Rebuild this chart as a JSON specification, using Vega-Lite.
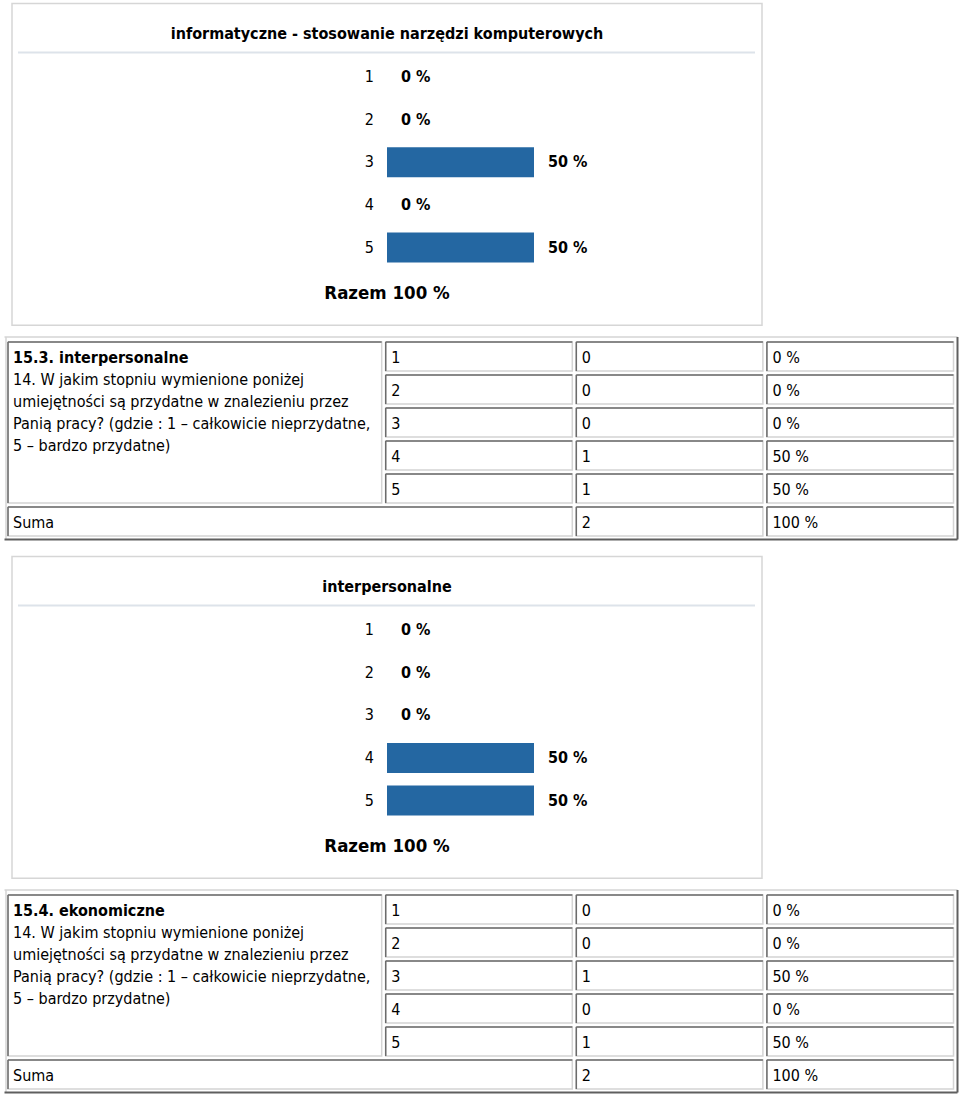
{
"$schema": "https://vega.github.io/schema/vega-lite/v6.json",
"padding": 0,
"spacing": 0,
"background": "white",
"config": {"view": {"stroke": null}, "axis": {"disable": true}, "font": "DejaVu Sans Condensed, DejaVu Sans", "text": {"color": "#000000"}},
"datasets": {
"informatyczne": [{"kat":1,"procent":0,"etykieta":"0 %"},{"kat":2,"procent":0,"etykieta":"0 %"},{"kat":3,"procent":50,"etykieta":"50 %"},{"kat":4,"procent":0,"etykieta":"0 %"},{"kat":5,"procent":50,"etykieta":"50 %"}],
"interpersonalne": [{"kat":1,"procent":0,"etykieta":"0 %"},{"kat":2,"procent":0,"etykieta":"0 %"},{"kat":3,"procent":0,"etykieta":"0 %"},{"kat":4,"procent":50,"etykieta":"50 %"},{"kat":5,"procent":50,"etykieta":"50 %"}],
"interpersonalne_tabela": [{"kat":"1","n":0,"pct":"0 %"},{"kat":"2","n":0,"pct":"0 %"},{"kat":"3","n":0,"pct":"0 %"},{"kat":"4","n":1,"pct":"50 %"},{"kat":"5","n":1,"pct":"50 %"},{"kat":"Suma","n":2,"pct":"100 %"}],
"ekonomiczne_tabela": [{"kat":"1","n":0,"pct":"0 %"},{"kat":"2","n":0,"pct":"0 %"},{"kat":"3","n":1,"pct":"50 %"},{"kat":"4","n":0,"pct":"0 %"},{"kat":"5","n":1,"pct":"50 %"},{"kat":"Suma","n":2,"pct":"100 %"}]
},
"vconcat": [
{
"width": 960, "height": 332,
"data": {"name": "informatyczne"},
"layer": [
{"data":{"values":[{}]},"mark":{"type":"rect","fill":"#ffffff","stroke":"#d6d6d6","strokeWidth":1.5,"xOffset":-375,"x2Offset":375,"yOffset":-31,"y2Offset":35},
 "encoding":{"x":{"datum":0,"type":"quantitative","scale":{"domain":[0,100],"range":[387,681],"nice":false,"zero":false,"padding":0}},"x2":{"datum":0},"y":{"datum":0,"type":"quantitative","scale":{"domain":[1,5],"range":[77,247.5],"nice":false,"zero":false,"padding":0}},"y2":{"datum":6}}},
{"data":{"values":[{}]},"mark":{"type":"rule","color":"#dde3ea","strokeWidth":2,"xOffset":-369,"x2Offset":368,"yOffset":18},
 "encoding":{"x":{"datum":0,"type":"quantitative"},"x2":{"datum":0},"y":{"datum":0,"type":"quantitative"}}},
{"data":{"values":[{}]},"mark":{"type":"text","fontSize":16,"fontWeight":"bold","align":"center","baseline":"middle"},
 "encoding":{"x":{"datum":0,"type":"quantitative"},"y":{"datum":0,"type":"quantitative"},"text":{"value":"informatyczne - stosowanie narzędzi komputerowych"}}},
{"mark":{"type":"bar","orient":"horizontal","size":30,"color":"#2467a2"},
 "encoding":{"x":{"field":"procent","type":"quantitative","stack":null},"y":{"field":"kat","type":"quantitative"}}},
{"mark":{"type":"text","align":"right","baseline":"middle","dx":-13,"fontSize":16},
 "encoding":{"x":{"datum":0,"type":"quantitative"},"y":{"field":"kat","type":"quantitative"},"text":{"field":"kat","type":"nominal"}}},
{"mark":{"type":"text","align":"left","baseline":"middle","dx":14,"fontSize":16,"fontWeight":"bold"},
 "encoding":{"x":{"field":"procent","type":"quantitative"},"y":{"field":"kat","type":"quantitative"},"text":{"field":"etykieta","type":"nominal"}}},
{"data":{"values":[{}]},"mark":{"type":"text","fontSize":18.5,"fontWeight":"bold","align":"center","baseline":"middle","dy":3},
 "encoding":{"x":{"datum":0,"type":"quantitative"},"y":{"datum":6,"type":"quantitative"},"text":{"value":"Razem 100 %"}}}
]
},
{
"width": 960, "height": 221,
"data": {"name": "interpersonalne_tabela"},
"layer": [
{"data":{"values":[{}]},"mark":{"type":"rule","color":"#d4d4d4","strokeWidth":1.5,"yOffset":-19.5},"encoding":{"x":{"datum":0,"type":"quantitative","scale":{"domain":[0,5],"range":[4.5,957.5],"nice":false,"zero":false,"padding":0}},"x2":{"datum":5},"y":{"datum":"1","type":"nominal","scale":{"type":"point","domain":["1","2","3","4","5","Suma"],"range":[24.5,189.5],"padding":0}}}},
{"data":{"values":[{}]},"mark":{"type":"rule","color":"#d4d4d4","strokeWidth":1.5,"xOffset":1.5,"yOffset":-19.5,"y2Offset":18},"encoding":{"x":{"datum":0,"type":"quantitative"},"y":{"datum":"1","type":"nominal"},"y2":{"datum":"Suma"}}},
{"data":{"values":[{}]},"mark":{"type":"rule","color":"#5f5f5f","strokeWidth":2,"yOffset":-19.5,"y2Offset":18},"encoding":{"x":{"datum":5,"type":"quantitative"},"y":{"datum":"1","type":"nominal"},"y2":{"datum":"Suma"}}},
{"data":{"values":[{}]},"mark":{"type":"rule","color":"#5f5f5f","strokeWidth":2,"yOffset":18},"encoding":{"x":{"datum":0,"type":"quantitative"},"x2":{"datum":5},"y":{"datum":"Suma","type":"nominal"}}},
{"data":{"values":[{}]},"mark":{"type":"rect","fill":"#ffffff","stroke":"#d4d4d4","strokeWidth":1.5,"xOffset":3.5,"x2Offset":-4,"yOffset":-14.5,"y2Offset":14.5},"encoding":{"x":{"datum":0,"type":"quantitative"},"x2":{"datum":2},"y":{"datum":"1","type":"nominal"},"y2":{"datum":"5"}}},
{"data":{"values":[{}]},"mark":{"type":"rule","color":"#6b6b6b","strokeWidth":1.5,"xOffset":3.5,"x2Offset":-4,"yOffset":-14.5},"encoding":{"x":{"datum":0,"type":"quantitative"},"x2":{"datum":2},"y":{"datum":"1","type":"nominal"}}},
{"data":{"values":[{}]},"mark":{"type":"rule","color":"#6b6b6b","strokeWidth":1.5,"xOffset":3.5,"yOffset":-14.5,"y2Offset":14.5},"encoding":{"x":{"datum":0,"type":"quantitative"},"y":{"datum":"1","type":"nominal"},"y2":{"datum":"5"}}},
{"data":{"values":[{}]},"mark":{"type":"text","align":"left","baseline":"middle","dx":8.5,"dy":1.5,"fontSize":16,"fontWeight":"bold"},"encoding":{"x":{"datum":0,"type":"quantitative"},"y":{"datum":"1","type":"nominal"},"text":{"value":"15.3. interpersonalne"}}},
{"data":{"values":[{}]},"mark":{"type":"text","align":"left","baseline":"alphabetic","dx":8.5,"dy":28,"fontSize":16,"lineHeight":22},"encoding":{"x":{"datum":0,"type":"quantitative"},"y":{"datum":"1","type":"nominal"},"text":{"value":["14. W jakim stopniu wymienione poniżej","umiejętności są przydatne w znalezieniu przez","Panią pracy? (gdzie : 1 – całkowicie nieprzydatne,","5 – bardzo przydatne)"]}}},
{"transform":[{"filter":"datum.kat != 'Suma'"}],"mark":{"type":"rect","fill":"#ffffff","stroke":"#d4d4d4","strokeWidth":1.5,"x2Offset":-4,"yOffset":-14.5,"y2Offset":14.5},"encoding":{"x":{"datum":2,"type":"quantitative"},"x2":{"datum":3},"y":{"field":"kat","type":"nominal"},"y2":{"field":"kat"}}},
{"transform":[{"filter":"datum.kat != 'Suma'"}],"mark":{"type":"rule","color":"#6b6b6b","strokeWidth":1.5,"x2Offset":-4,"yOffset":-14.5},"encoding":{"x":{"datum":2,"type":"quantitative"},"x2":{"datum":3},"y":{"field":"kat","type":"nominal"}}},
{"transform":[{"filter":"datum.kat != 'Suma'"}],"mark":{"type":"rule","color":"#6b6b6b","strokeWidth":1.5,"yOffset":-14.5,"y2Offset":14.5},"encoding":{"x":{"datum":2,"type":"quantitative"},"y":{"field":"kat","type":"nominal"},"y2":{"field":"kat"}}},
{"transform":[{"filter":"datum.kat != 'Suma'"}],"mark":{"type":"text","align":"left","baseline":"middle","dx":5.5,"dy":1.5,"fontSize":16},"encoding":{"x":{"datum":2,"type":"quantitative"},"y":{"field":"kat","type":"nominal"},"text":{"field":"kat","type":"nominal"}}},
{"mark":{"type":"rect","fill":"#ffffff","stroke":"#d4d4d4","strokeWidth":1.5,"x2Offset":-4,"yOffset":-14.5,"y2Offset":14.5},"encoding":{"x":{"datum":3,"type":"quantitative"},"x2":{"datum":4},"y":{"field":"kat","type":"nominal"},"y2":{"field":"kat"}}},
{"mark":{"type":"rule","color":"#6b6b6b","strokeWidth":1.5,"x2Offset":-4,"yOffset":-14.5},"encoding":{"x":{"datum":3,"type":"quantitative"},"x2":{"datum":4},"y":{"field":"kat","type":"nominal"}}},
{"mark":{"type":"rule","color":"#6b6b6b","strokeWidth":1.5,"yOffset":-14.5,"y2Offset":14.5},"encoding":{"x":{"datum":3,"type":"quantitative"},"y":{"field":"kat","type":"nominal"},"y2":{"field":"kat"}}},
{"mark":{"type":"text","align":"left","baseline":"middle","dx":5.5,"dy":1.5,"fontSize":16},"encoding":{"x":{"datum":3,"type":"quantitative"},"y":{"field":"kat","type":"nominal"},"text":{"field":"n","type":"nominal"}}},
{"mark":{"type":"rect","fill":"#ffffff","stroke":"#d4d4d4","strokeWidth":1.5,"x2Offset":-4,"yOffset":-14.5,"y2Offset":14.5},"encoding":{"x":{"datum":4,"type":"quantitative"},"x2":{"datum":5},"y":{"field":"kat","type":"nominal"},"y2":{"field":"kat"}}},
{"mark":{"type":"rule","color":"#6b6b6b","strokeWidth":1.5,"x2Offset":-4,"yOffset":-14.5},"encoding":{"x":{"datum":4,"type":"quantitative"},"x2":{"datum":5},"y":{"field":"kat","type":"nominal"}}},
{"mark":{"type":"rule","color":"#6b6b6b","strokeWidth":1.5,"yOffset":-14.5,"y2Offset":14.5},"encoding":{"x":{"datum":4,"type":"quantitative"},"y":{"field":"kat","type":"nominal"},"y2":{"field":"kat"}}},
{"mark":{"type":"text","align":"left","baseline":"middle","dx":5.5,"dy":1.5,"fontSize":16},"encoding":{"x":{"datum":4,"type":"quantitative"},"y":{"field":"kat","type":"nominal"},"text":{"field":"pct","type":"nominal"}}},
{"transform":[{"filter":"datum.kat == 'Suma'"}],"mark":{"type":"rect","fill":"#ffffff","stroke":"#d4d4d4","strokeWidth":1.5,"xOffset":3.5,"x2Offset":-4,"yOffset":-14.5,"y2Offset":14.5},"encoding":{"x":{"datum":0,"type":"quantitative"},"x2":{"datum":3},"y":{"field":"kat","type":"nominal"},"y2":{"field":"kat"}}},
{"transform":[{"filter":"datum.kat == 'Suma'"}],"mark":{"type":"rule","color":"#6b6b6b","strokeWidth":1.5,"xOffset":3.5,"x2Offset":-4,"yOffset":-14.5},"encoding":{"x":{"datum":0,"type":"quantitative"},"x2":{"datum":3},"y":{"field":"kat","type":"nominal"}}},
{"transform":[{"filter":"datum.kat == 'Suma'"}],"mark":{"type":"rule","color":"#6b6b6b","strokeWidth":1.5,"xOffset":3.5,"yOffset":-14.5,"y2Offset":14.5},"encoding":{"x":{"datum":0,"type":"quantitative"},"y":{"field":"kat","type":"nominal"},"y2":{"field":"kat"}}},
{"transform":[{"filter":"datum.kat == 'Suma'"}],"mark":{"type":"text","align":"left","baseline":"middle","dx":8.5,"dy":1.5,"fontSize":16},"encoding":{"x":{"datum":0,"type":"quantitative"},"y":{"field":"kat","type":"nominal"},"text":{"field":"kat","type":"nominal"}}}
]
},
{
"width": 960, "height": 332,
"data": {"name": "interpersonalne"},
"layer": [
{"data":{"values":[{}]},"mark":{"type":"rect","fill":"#ffffff","stroke":"#d6d6d6","strokeWidth":1.5,"xOffset":-375,"x2Offset":375,"yOffset":-31,"y2Offset":35},
 "encoding":{"x":{"datum":0,"type":"quantitative","scale":{"domain":[0,100],"range":[387,681],"nice":false,"zero":false,"padding":0}},"x2":{"datum":0},"y":{"datum":0,"type":"quantitative","scale":{"domain":[1,5],"range":[77,247.5],"nice":false,"zero":false,"padding":0}},"y2":{"datum":6}}},
{"data":{"values":[{}]},"mark":{"type":"rule","color":"#dde3ea","strokeWidth":2,"xOffset":-369,"x2Offset":368,"yOffset":18},
 "encoding":{"x":{"datum":0,"type":"quantitative"},"x2":{"datum":0},"y":{"datum":0,"type":"quantitative"}}},
{"data":{"values":[{}]},"mark":{"type":"text","fontSize":16,"fontWeight":"bold","align":"center","baseline":"middle"},
 "encoding":{"x":{"datum":0,"type":"quantitative"},"y":{"datum":0,"type":"quantitative"},"text":{"value":"interpersonalne"}}},
{"mark":{"type":"bar","orient":"horizontal","size":30,"color":"#2467a2"},
 "encoding":{"x":{"field":"procent","type":"quantitative","stack":null},"y":{"field":"kat","type":"quantitative"}}},
{"mark":{"type":"text","align":"right","baseline":"middle","dx":-13,"fontSize":16},
 "encoding":{"x":{"datum":0,"type":"quantitative"},"y":{"field":"kat","type":"quantitative"},"text":{"field":"kat","type":"nominal"}}},
{"mark":{"type":"text","align":"left","baseline":"middle","dx":14,"fontSize":16,"fontWeight":"bold"},
 "encoding":{"x":{"field":"procent","type":"quantitative"},"y":{"field":"kat","type":"quantitative"},"text":{"field":"etykieta","type":"nominal"}}},
{"data":{"values":[{}]},"mark":{"type":"text","fontSize":18.5,"fontWeight":"bold","align":"center","baseline":"middle","dy":3},
 "encoding":{"x":{"datum":0,"type":"quantitative"},"y":{"datum":6,"type":"quantitative"},"text":{"value":"Razem 100 %"}}}
]
},
{
"width": 960, "height": 209,
"data": {"name": "ekonomiczne_tabela"},
"layer": [
{"data":{"values":[{}]},"mark":{"type":"rule","color":"#d4d4d4","strokeWidth":1.5,"yOffset":-19.5},"encoding":{"x":{"datum":0,"type":"quantitative","scale":{"domain":[0,5],"range":[4.5,957.5],"nice":false,"zero":false,"padding":0}},"x2":{"datum":5},"y":{"datum":"1","type":"nominal","scale":{"type":"point","domain":["1","2","3","4","5","Suma"],"range":[24.5,189.5],"padding":0}}}},
{"data":{"values":[{}]},"mark":{"type":"rule","color":"#d4d4d4","strokeWidth":1.5,"xOffset":1.5,"yOffset":-19.5,"y2Offset":18},"encoding":{"x":{"datum":0,"type":"quantitative"},"y":{"datum":"1","type":"nominal"},"y2":{"datum":"Suma"}}},
{"data":{"values":[{}]},"mark":{"type":"rule","color":"#5f5f5f","strokeWidth":2,"yOffset":-19.5,"y2Offset":18},"encoding":{"x":{"datum":5,"type":"quantitative"},"y":{"datum":"1","type":"nominal"},"y2":{"datum":"Suma"}}},
{"data":{"values":[{}]},"mark":{"type":"rule","color":"#5f5f5f","strokeWidth":2,"yOffset":18},"encoding":{"x":{"datum":0,"type":"quantitative"},"x2":{"datum":5},"y":{"datum":"Suma","type":"nominal"}}},
{"data":{"values":[{}]},"mark":{"type":"rect","fill":"#ffffff","stroke":"#d4d4d4","strokeWidth":1.5,"xOffset":3.5,"x2Offset":-4,"yOffset":-14.5,"y2Offset":14.5},"encoding":{"x":{"datum":0,"type":"quantitative"},"x2":{"datum":2},"y":{"datum":"1","type":"nominal"},"y2":{"datum":"5"}}},
{"data":{"values":[{}]},"mark":{"type":"rule","color":"#6b6b6b","strokeWidth":1.5,"xOffset":3.5,"x2Offset":-4,"yOffset":-14.5},"encoding":{"x":{"datum":0,"type":"quantitative"},"x2":{"datum":2},"y":{"datum":"1","type":"nominal"}}},
{"data":{"values":[{}]},"mark":{"type":"rule","color":"#6b6b6b","strokeWidth":1.5,"xOffset":3.5,"yOffset":-14.5,"y2Offset":14.5},"encoding":{"x":{"datum":0,"type":"quantitative"},"y":{"datum":"1","type":"nominal"},"y2":{"datum":"5"}}},
{"data":{"values":[{}]},"mark":{"type":"text","align":"left","baseline":"middle","dx":8.5,"dy":1.5,"fontSize":16,"fontWeight":"bold"},"encoding":{"x":{"datum":0,"type":"quantitative"},"y":{"datum":"1","type":"nominal"},"text":{"value":"15.4. ekonomiczne"}}},
{"data":{"values":[{}]},"mark":{"type":"text","align":"left","baseline":"alphabetic","dx":8.5,"dy":28,"fontSize":16,"lineHeight":22},"encoding":{"x":{"datum":0,"type":"quantitative"},"y":{"datum":"1","type":"nominal"},"text":{"value":["14. W jakim stopniu wymienione poniżej","umiejętności są przydatne w znalezieniu przez","Panią pracy? (gdzie : 1 – całkowicie nieprzydatne,","5 – bardzo przydatne)"]}}},
{"transform":[{"filter":"datum.kat != 'Suma'"}],"mark":{"type":"rect","fill":"#ffffff","stroke":"#d4d4d4","strokeWidth":1.5,"x2Offset":-4,"yOffset":-14.5,"y2Offset":14.5},"encoding":{"x":{"datum":2,"type":"quantitative"},"x2":{"datum":3},"y":{"field":"kat","type":"nominal"},"y2":{"field":"kat"}}},
{"transform":[{"filter":"datum.kat != 'Suma'"}],"mark":{"type":"rule","color":"#6b6b6b","strokeWidth":1.5,"x2Offset":-4,"yOffset":-14.5},"encoding":{"x":{"datum":2,"type":"quantitative"},"x2":{"datum":3},"y":{"field":"kat","type":"nominal"}}},
{"transform":[{"filter":"datum.kat != 'Suma'"}],"mark":{"type":"rule","color":"#6b6b6b","strokeWidth":1.5,"yOffset":-14.5,"y2Offset":14.5},"encoding":{"x":{"datum":2,"type":"quantitative"},"y":{"field":"kat","type":"nominal"},"y2":{"field":"kat"}}},
{"transform":[{"filter":"datum.kat != 'Suma'"}],"mark":{"type":"text","align":"left","baseline":"middle","dx":5.5,"dy":1.5,"fontSize":16},"encoding":{"x":{"datum":2,"type":"quantitative"},"y":{"field":"kat","type":"nominal"},"text":{"field":"kat","type":"nominal"}}},
{"mark":{"type":"rect","fill":"#ffffff","stroke":"#d4d4d4","strokeWidth":1.5,"x2Offset":-4,"yOffset":-14.5,"y2Offset":14.5},"encoding":{"x":{"datum":3,"type":"quantitative"},"x2":{"datum":4},"y":{"field":"kat","type":"nominal"},"y2":{"field":"kat"}}},
{"mark":{"type":"rule","color":"#6b6b6b","strokeWidth":1.5,"x2Offset":-4,"yOffset":-14.5},"encoding":{"x":{"datum":3,"type":"quantitative"},"x2":{"datum":4},"y":{"field":"kat","type":"nominal"}}},
{"mark":{"type":"rule","color":"#6b6b6b","strokeWidth":1.5,"yOffset":-14.5,"y2Offset":14.5},"encoding":{"x":{"datum":3,"type":"quantitative"},"y":{"field":"kat","type":"nominal"},"y2":{"field":"kat"}}},
{"mark":{"type":"text","align":"left","baseline":"middle","dx":5.5,"dy":1.5,"fontSize":16},"encoding":{"x":{"datum":3,"type":"quantitative"},"y":{"field":"kat","type":"nominal"},"text":{"field":"n","type":"nominal"}}},
{"mark":{"type":"rect","fill":"#ffffff","stroke":"#d4d4d4","strokeWidth":1.5,"x2Offset":-4,"yOffset":-14.5,"y2Offset":14.5},"encoding":{"x":{"datum":4,"type":"quantitative"},"x2":{"datum":5},"y":{"field":"kat","type":"nominal"},"y2":{"field":"kat"}}},
{"mark":{"type":"rule","color":"#6b6b6b","strokeWidth":1.5,"x2Offset":-4,"yOffset":-14.5},"encoding":{"x":{"datum":4,"type":"quantitative"},"x2":{"datum":5},"y":{"field":"kat","type":"nominal"}}},
{"mark":{"type":"rule","color":"#6b6b6b","strokeWidth":1.5,"yOffset":-14.5,"y2Offset":14.5},"encoding":{"x":{"datum":4,"type":"quantitative"},"y":{"field":"kat","type":"nominal"},"y2":{"field":"kat"}}},
{"mark":{"type":"text","align":"left","baseline":"middle","dx":5.5,"dy":1.5,"fontSize":16},"encoding":{"x":{"datum":4,"type":"quantitative"},"y":{"field":"kat","type":"nominal"},"text":{"field":"pct","type":"nominal"}}},
{"transform":[{"filter":"datum.kat == 'Suma'"}],"mark":{"type":"rect","fill":"#ffffff","stroke":"#d4d4d4","strokeWidth":1.5,"xOffset":3.5,"x2Offset":-4,"yOffset":-14.5,"y2Offset":14.5},"encoding":{"x":{"datum":0,"type":"quantitative"},"x2":{"datum":3},"y":{"field":"kat","type":"nominal"},"y2":{"field":"kat"}}},
{"transform":[{"filter":"datum.kat == 'Suma'"}],"mark":{"type":"rule","color":"#6b6b6b","strokeWidth":1.5,"xOffset":3.5,"x2Offset":-4,"yOffset":-14.5},"encoding":{"x":{"datum":0,"type":"quantitative"},"x2":{"datum":3},"y":{"field":"kat","type":"nominal"}}},
{"transform":[{"filter":"datum.kat == 'Suma'"}],"mark":{"type":"rule","color":"#6b6b6b","strokeWidth":1.5,"xOffset":3.5,"yOffset":-14.5,"y2Offset":14.5},"encoding":{"x":{"datum":0,"type":"quantitative"},"y":{"field":"kat","type":"nominal"},"y2":{"field":"kat"}}},
{"transform":[{"filter":"datum.kat == 'Suma'"}],"mark":{"type":"text","align":"left","baseline":"middle","dx":8.5,"dy":1.5,"fontSize":16},"encoding":{"x":{"datum":0,"type":"quantitative"},"y":{"field":"kat","type":"nominal"},"text":{"field":"kat","type":"nominal"}}}
]
}
]
}
